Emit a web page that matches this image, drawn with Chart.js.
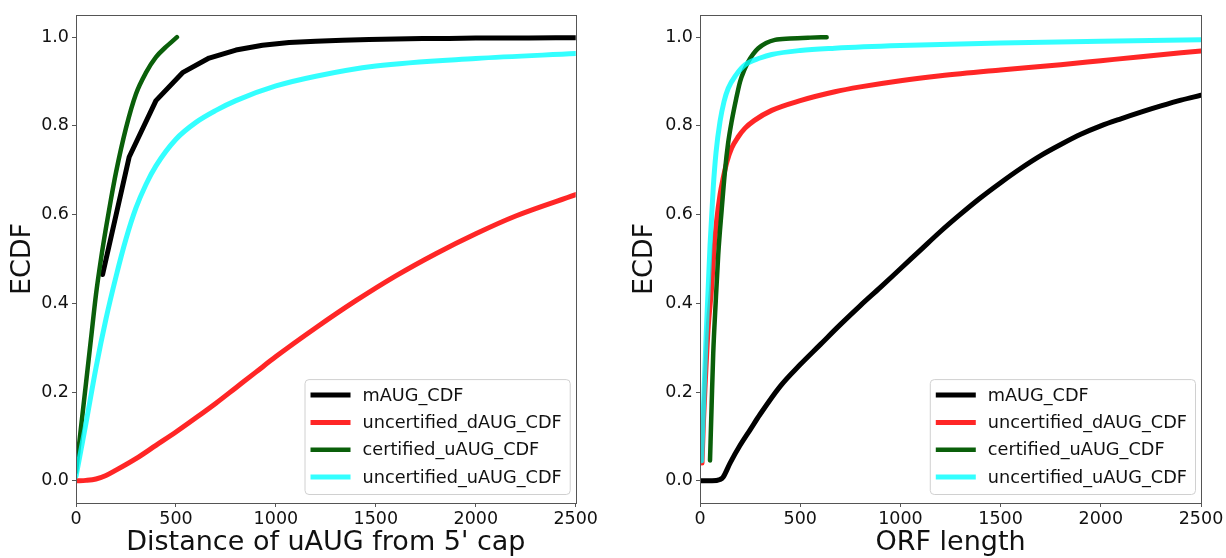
<!DOCTYPE html>
<html>
<head>
<meta charset="utf-8">
<script src="https://cdn.jsdelivr.net/npm/chart.js@4.4.0/dist/chart.umd.min.js"></script>
<style>
  body { margin: 0; background: #fff; }
  #wrap { position: relative; width: 1226px; height: 558px; }
  canvas { position: absolute; top: 0; }
</style>
</head>
<body>
<div id="wrap">
  <canvas id="distChart" width="600" height="558" style="left:0px"></canvas>
  <canvas id="orfChart" width="606" height="558" style="left:620px"></canvas>
</div>
<script>
const seriesLabels = ["mAUG_CDF", "uncertified_dAUG_CDF", "certified_uAUG_CDF", "uncertified_uAUG_CDF"];
const seriesColors = ["#000000", "rgba(255,0,0,0.85)", "#0a5f0a", "rgba(0,255,255,0.8)"];
const xTicks = [0, 500, 1000, 1500, 2000, 2500];
const yTicks = [0, 0.2, 0.4, 0.6, 0.8, 1.0];

// distance of uAUG from 5' cap
const distMaugX = [133, 266, 400, 533, 666, 800, 933, 1066, 1200, 1333, 1466, 1600, 1733, 1866, 2000, 2133, 2266, 2400, 2533];
const distMaugY = [0.465, 0.73, 0.857, 0.92, 0.953, 0.971, 0.982, 0.988, 0.991, 0.993, 0.995, 0.996, 0.997, 0.997, 0.998, 0.998, 0.998, 0.999, 0.999];
const distDaugX = [0, 50, 100, 150, 200, 300, 400, 500, 600, 700, 800, 900, 1000, 1200, 1400, 1600, 1800, 2000, 2200, 2500];
const distDaugY = [0, 0.001, 0.004, 0.012, 0.024, 0.05, 0.08, 0.11, 0.142, 0.175, 0.21, 0.245, 0.28, 0.345, 0.406, 0.462, 0.512, 0.557, 0.597, 0.645];
const distCertX = [0, 25, 50, 75, 100, 125, 150, 175, 200, 250, 300, 350, 400, 450, 480, 505];
const distCertY = [0.02, 0.12, 0.22, 0.32, 0.42, 0.50, 0.57, 0.635, 0.695, 0.795, 0.872, 0.92, 0.955, 0.978, 0.99, 1.0];
const distUncX = [0, 25, 50, 100, 150, 200, 250, 300, 350, 400, 500, 600, 700, 800, 1000, 1200, 1500, 2000, 2500];
const distUncY = [0.01, 0.07, 0.13, 0.255, 0.365, 0.46, 0.545, 0.615, 0.668, 0.71, 0.77, 0.808, 0.835, 0.857, 0.89, 0.912, 0.935, 0.952, 0.963];

// ORF length
const orfMaugX = [0, 60, 100, 115, 150, 200, 250, 300, 400, 500, 600, 700, 800, 900, 1000, 1100, 1200, 1300, 1400, 1500, 1600, 1700, 1800, 1900, 2000, 2100, 2200, 2300, 2400, 2500];
const orfMaugY = [0, 0, 0.003, 0.008, 0.04, 0.08, 0.115, 0.15, 0.213, 0.262, 0.307, 0.352, 0.395, 0.436, 0.478, 0.52, 0.562, 0.601, 0.638, 0.672, 0.704, 0.733, 0.758, 0.781, 0.80, 0.816, 0.831, 0.845, 0.858, 0.869];
const orfDaugX = [10, 17, 25, 40, 58, 70, 83, 100, 116, 135, 158, 190, 225, 270, 358, 500, 673, 800, 1000, 1200, 1500, 1800, 2000, 2200, 2500];
const orfDaugY = [0.04, 0.13, 0.21, 0.34, 0.436, 0.52, 0.586, 0.645, 0.683, 0.72, 0.75, 0.775, 0.795, 0.812, 0.835, 0.857, 0.877, 0.888, 0.902, 0.913, 0.926, 0.938, 0.947, 0.956, 0.969];
const orfCertX = [50, 58, 66, 78, 91, 108, 125, 140, 158, 180, 200, 220, 241, 265, 291, 330, 374, 450, 550, 632];
const orfCertY = [0.046, 0.17, 0.287, 0.40, 0.51, 0.61, 0.70, 0.76, 0.81, 0.86, 0.90, 0.925, 0.945, 0.962, 0.975, 0.987, 0.994, 0.997, 0.999, 1.0];
const orfUncX = [8, 20, 30, 41, 50, 66, 80, 100, 120, 141, 180, 225, 300, 358, 500, 673, 1000, 1500, 2000, 2500];
const orfUncY = [0.045, 0.2, 0.32, 0.436, 0.53, 0.66, 0.74, 0.81, 0.855, 0.885, 0.915, 0.938, 0.953, 0.961, 0.97, 0.975, 0.981, 0.987, 0.991, 0.994];

Chart.defaults.font.family = "'DejaVu Sans', sans-serif";
Chart.defaults.color = "#111";

const toPoints = (xs, ys) => xs.map((x, i) => ({ x: x, y: ys[i] }));

function makeDatasets(series) {
    // order: cyan on top, black at the bottom
    return series.map((s, i) => ({
        label: seriesLabels[i],
        data: toPoints(s[0], s[1]),
        borderColor: seriesColors[i],
        backgroundColor: seriesColors[i],
        borderWidth: i === 2 ? 4.5 : 5,
        pointRadius: 0,
        borderCapStyle: "round",
        borderJoinStyle: "round",
        cubicInterpolationMode: s[2] ? "default" : "monotone",
        tension: s[2] ? 0 : 0.4,
        order: 3 - i
    }));
}

// axes frame on all four sides plus a boxed legend in the lower right
const frameAndLegend = {
    id: "frameAndLegend",
    afterDatasetsDraw(chart) {
        const { ctx, chartArea: a } = chart;
        ctx.save();
        ctx.strokeStyle = "#555";
        ctx.lineWidth = 1;
        ctx.strokeRect(Math.round(a.left) + 0.5, Math.round(a.top) + 0.5,
            Math.round(a.right - a.left), Math.round(a.bottom - a.top));

        ctx.font = "17.7px 'DejaVu Sans'";
        const sets = chart.data.datasets;
        const textW = Math.max(...sets.map(d => ctx.measureText(d.label).width));
        const rowH = 27.3;
        const boxW = 58 + textW + 8;
        const boxH = 33 + rowH * (sets.length - 1);
        const x0 = a.right - 6 - boxW;
        const y0 = a.bottom - 9 - boxH;

        ctx.beginPath();
        ctx.roundRect(x0 + 0.5, y0 + 0.5, boxW, boxH, 4);
        ctx.fillStyle = "rgba(255,255,255,0.8)";
        ctx.fill();
        ctx.strokeStyle = "#d0d0d0";
        ctx.stroke();

        ctx.textBaseline = "middle";
        sets.forEach((d, i) => {
            const y = y0 + 16 + i * rowH;
            ctx.beginPath();
            ctx.moveTo(x0 + 6, y);
            ctx.lineTo(x0 + 46, y);
            ctx.strokeStyle = d.borderColor;
            ctx.lineWidth = d.borderWidth;
            ctx.lineCap = "butt";
            ctx.stroke();
            ctx.fillStyle = "#111";
            ctx.fillText(d.label, x0 + 58, y + 1);
        });
        ctx.restore();
    }
};

function makeChart(id, series, xTitle, yAxisW, rightPad, yTitlePad) {
    return new Chart(document.getElementById(id), {
        type: "line",
        data: { datasets: makeDatasets(series) },
        options: {
            responsive: false,
            animation: false,
            events: [],
            layout: { padding: { left: 0, top: 15, right: rightPad, bottom: 0 } },
            plugins: { legend: { display: false }, tooltip: { enabled: false } },
            scales: {
                x: {
                    type: "linear",
                    min: 0,
                    max: 2500,
                    afterBuildTicks: s => { s.ticks = xTicks.map(v => ({ value: v })); },
                    afterFit: s => { s.height = 55; },
                    grid: { drawOnChartArea: false, drawTicks: true, tickLength: 4, color: "#555" },
                    border: { display: false },
                    ticks: { font: { size: 17.5 }, padding: 2, maxRotation: 0, callback: v => String(v) },
                    title: { display: true, text: xTitle, font: { size: 27 }, padding: { top: 0, bottom: -1 } }
                },
                y: {
                    type: "linear",
                    min: -0.05,
                    max: 1.05,
                    afterBuildTicks: s => { s.ticks = yTicks.map(v => ({ value: v })); },
                    afterFit: s => { s.width = yAxisW; },
                    grid: { drawOnChartArea: false, drawTicks: true, tickLength: 4, color: "#555" },
                    border: { display: false },
                    ticks: { font: { size: 17.5 }, padding: 3, callback: v => Number(v).toFixed(1) },
                    title: { display: true, text: "ECDF", font: { size: 27 }, padding: { top: yTitlePad, bottom: 0 } }
                }
            }
        },
        plugins: [frameAndLegend]
    });
}

makeChart("distChart", [
    [distMaugX, distMaugY, true],
    [distDaugX, distDaugY],
    [distCertX, distCertY],
    [distUncX, distUncY]
], "Distance of uAUG from 5' cap", 76, 23, 7);

makeChart("orfChart", [
    [orfMaugX, orfMaugY],
    [orfDaugX, orfDaugY],
    [orfCertX, orfCertY],
    [orfUncX, orfUncY]
], "ORF length", 80, 25, 9);
</script>
</body>
</html>
